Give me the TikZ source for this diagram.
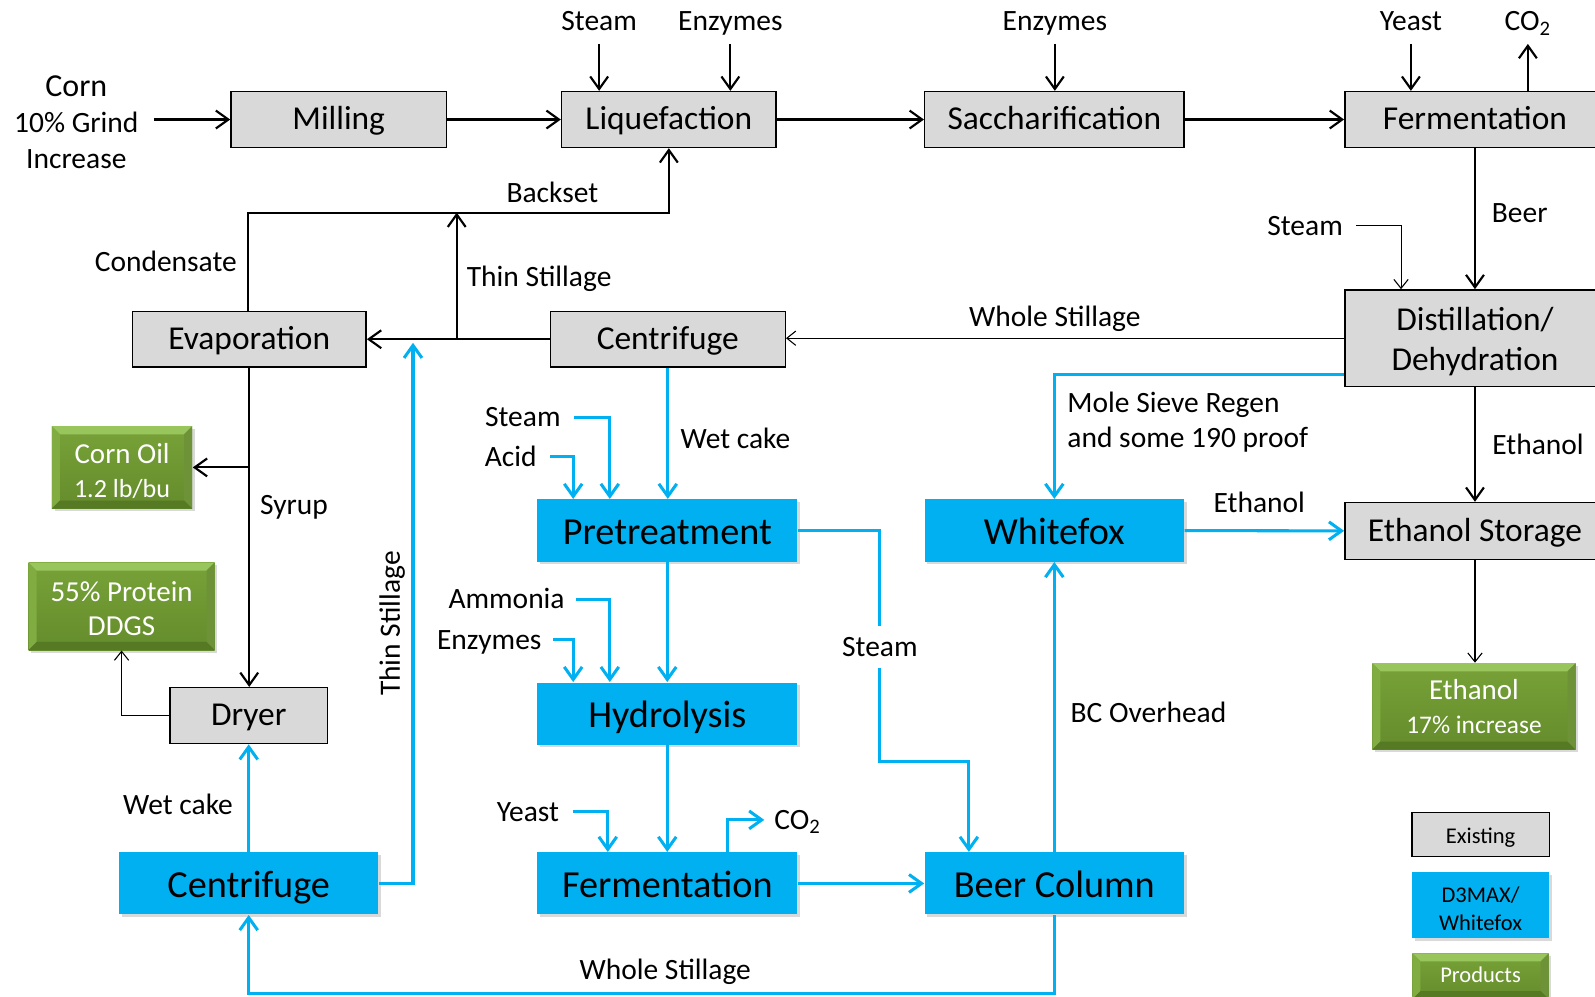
\documentclass[tikz,border=0pt]{standalone}
\usepackage{fontspec}
\setmainfont{Carlito}
\usetikzlibrary{arrows.meta,positioning,shadows}

\definecolor{exgray}{RGB}{217,217,217}
\definecolor{dmaxblue}{RGB}{0,176,240}
\definecolor{prodtop}{RGB}{120,162,56}
\definecolor{prodbot}{RGB}{100,140,44}
\definecolor{bevlight}{RGB}{152,198,92}
\definecolor{bevmid}{RGB}{128,172,66}
\definecolor{bevdark}{RGB}{86,122,36}

\newcommand{\lift}[1]{\rule{0pt}{#1em}}

\tikzset{
  boxsize/.style 2 args={minimum width=#1cm,minimum height=#2cm},
  exline/.style={text height=15pt,text depth=3.7pt},
  dmline/.style={text height=19.3pt,text depth=3.4pt},
  existing/.style={draw=black,line width=0.8pt,fill=exgray,inner sep=0pt,align=center,
    font=\fontsize{18.7}{22.8}\selectfont},
  dmax/.style={fill=dmaxblue,inner sep=0pt,align=center,font=\fontsize{21.4}{24}\selectfont,
    drop shadow={shadow xshift=1.5pt,shadow yshift=-1.5pt,opacity=0.3}},
  product/.style={top color=prodtop,bottom color=prodbot,inner sep=0pt,align=center,text=white,
    font=\fontsize{16.2}{19}\selectfont,
    drop shadow={shadow xshift=1.5pt,shadow yshift=-1.5pt,opacity=0.3},
    path picture={
      \coordinate (nw) at (path picture bounding box.north west);
      \coordinate (ne) at (path picture bounding box.north east);
      \coordinate (sw) at (path picture bounding box.south west);
      \coordinate (se) at (path picture bounding box.south east);
      \fill[bevlight] (nw) -- (ne) -- ([xshift=-4.5pt,yshift=-4.5pt]ne) -- ([xshift=4.5pt,yshift=-4.5pt]nw) -- cycle;
      \fill[bevmid] (nw) -- ([xshift=4.5pt,yshift=-4.5pt]nw) -- ([xshift=4.5pt,yshift=4.5pt]sw) -- (sw) -- cycle;
      \fill[bevmid!85!black] (ne) -- ([xshift=-4.5pt,yshift=-4.5pt]ne) -- ([xshift=-4.5pt,yshift=4.5pt]se) -- (se) -- cycle;
      \fill[bevdark] (sw) -- ([xshift=4.5pt,yshift=4.5pt]sw) -- ([xshift=-4.5pt,yshift=4.5pt]se) -- (se) -- cycle;
    }},
  legfont/.style={font=\fontsize{12.6}{15.5}\selectfont},
  lbl/.style={font=\fontsize{16.5}{20}\selectfont,text height=13.2pt,text depth=2.8pt},
  mlbl/.style={font=\fontsize{16.5}{20}\selectfont},
  flow/.style={->,line width=1.2pt},
  bflow/.style={->,draw=dmaxblue,line width=1.7pt},
  tflow/.style={-{Straight Barb[length=5pt,width=8pt]},line width=0.6pt},
}

\begin{document}
\begin{tikzpicture}[x=0.02cm,y=-0.02cm,>={Straight Barb[length=7pt,width=10pt]},semithick]
  \useasboundingbox (0,0) rectangle (1568,980);

  % existing plant
  \node[existing,exline,boxsize={4.24}{1.1}] (mill)  at (333,117.5)  {Milling};
  \node[existing,exline,boxsize={4.22}{1.1}] (liq)   at (657.5,117.5) {Liquefaction};
  \node[existing,exline,boxsize={5.1}{1.1}]  (sacc)  at (1036.5,117.5) {Saccharification};
  \node[existing,exline,boxsize={5.12}{1.1}] (fermA) at (1450,117.5) {Fermentation};
  \node[existing,boxsize={5.12}{1.9}] (dist)  at (1450,332.5) {\lift{0.9}Distillation/\\Dehydration};
  \node[existing,exline,boxsize={4.62}{1.1}] (cent)  at (656.5,333.5) {Centrifuge};
  \node[existing,exline,boxsize={4.6}{1.1}]  (evap)  at (245,333.5)  {Evaporation};
  \node[existing,exline,boxsize={3.1}{1.1}]  (dryer) at (244.5,703.5) {Dryer};
  \node[existing,exline,boxsize={5.12}{1.12}] (etstor) at (1450,522) {Ethanol Storage};

  % D3MAX / Whitefox
  \node[dmax,dmline,boxsize={5.12}{1.22}] (pre)   at (656,521.5)  {Pretreatment};
  \node[dmax,dmline,boxsize={5.12}{1.22}] (hyd)   at (656,701.5)  {Hydrolysis};
  \node[dmax,dmline,boxsize={5.12}{1.22}] (fermB) at (656,868.5)  {Fermentation};
  \node[dmax,dmline,boxsize={5.1}{1.22}]  (beer)  at (1036.5,868.5) {Beer Column};
  \node[dmax,dmline,boxsize={5.1}{1.22}]  (wfox)  at (1036.5,521.5) {Whitefox};
  \node[dmax,dmline,boxsize={5.1}{1.22}]  (centB) at (244.5,868.5) {Centrifuge};

  % products
  \node[product,boxsize={2.76}{1.62}] (oil)  at (120,459.5) {\lift{0.92}Corn Oil\\{\fontsize{14.6}{17}\selectfont 1.2 lb/bu}};
  \node[product,boxsize={3.66}{1.72}] (ddgs) at (119.5,596) {\lift{0.82}55\% Protein\\DDGS};
  \node[product,boxsize={4.0}{1.7}]   (ethP) at (1449,694.5) {Ethanol\\{\fontsize{14.2}{17}\selectfont 17\% increase}};

  % legend
  \node[existing,legfont,text height=10.6pt,text depth=1.1pt,boxsize={2.7}{0.86}] (legex) at (1455.5,820.5) {Existing};
  \node[dmax,legfont,boxsize={2.7}{1.3},below=0.28cm of legex] (legd) {\lift{1.05}D3MAX/\\Whitefox};
  \node[product,legfont,text height=10pt,text depth=2.5pt,boxsize={2.68}{0.9},below=0.28cm of legd] (legp) {Products};

  % inputs and labels
  \node[mlbl,align=center] (corn) at (75,120) {{\fontsize{17.9}{21}\selectfont Corn}\\10\% Grind\\Increase};
  \node[lbl] (stmA)   at (589,21)  {Steam};
  \node[lbl] (enzA)   at (718,21)  {Enzymes};
  \node[lbl] (enzB)   at (1037,21) {Enzymes};
  \node[lbl] (yeastA) at (1387,21) {Yeast};
  \node[lbl] (co2A)   at (1502,21) {CO\textsubscript{2}};
  \node[lbl] (beerlbl) at (1494,210) {Beer};
  \node[lbl] (stmC)   at (1283,222) {Steam};
  \node[lbl] (wsA)    at (1037,312) {Whole Stillage};
  \node[lbl] (bkset)  at (543,190) {Backset};
  \node[lbl] (cond)   at (163,258) {Condensate};
  \node[lbl] (tsAl)   at (530,273) {Thin Stillage};
  \node[lbl] (syrup)  at (289,497) {Syrup};
  \node[lbl] (wcA)    at (723,432) {Wet cake};
  \node[lbl] (wcB)    at (175,792) {Wet cake};
  \node[lbl,rotate=90] (tsBl) at (384,613) {Thin Stillage};
  \node[lbl] (wsB)    at (654,954) {Whole Stillage};
  \node[lbl] (stmB)   at (514,410) {Steam};
  \node[lbl] (acid)   at (502,449) {Acid};
  \node[lbl] (amm)    at (498,589) {Ammonia};
  \node[lbl] (enzC)   at (481,629) {Enzymes};
  \node[lbl] (yeastB) at (519,798) {Yeast};
  \node[lbl] (co2B)   at (784,806) {CO\textsubscript{2}};
  \node[lbl] (stmD)   at (865,636) {Steam};
  \node[lbl] (bco)    at (1129,701) {BC Overhead};
  \node[mlbl,align=left,anchor=west] (msr) at (1043,415) {Mole Sieve Regen\\and some 190 proof};
  \node[lbl] (ethA)   at (1238,495) {Ethanol};
  \node[lbl] (ethB)   at (1512,438) {Ethanol};

  \coordinate (bkL) at (244,209);
  \coordinate (tsA) at (449,333.5);
  \coordinate (tsB) at (406,337);
  \coordinate (wsC) at (650,977);
  \coordinate (stmK) at (865,749);

  % black lines
  \draw[flow,shorten <=5pt] (corn.east |- mill.west) -- (mill.west);
  \draw[flow] (mill) -- (liq);
  \draw[flow] (liq) -- (sacc);
  \draw[flow] (sacc) -- (fermA);
  \draw[flow,shorten <=1pt] (stmA) -- (stmA |- liq.north);
  \draw[flow,shorten <=1pt] (enzA) -- (enzA |- liq.north);
  \draw[flow,shorten <=1pt] (enzB) -- (enzB |- sacc.north);
  \draw[flow,shorten <=1pt] (yeastA) -- (yeastA |- fermA.north);
  \draw[flow,shorten >=1pt] (fermA.north -| co2A) -- (co2A);
  \draw[flow] (fermA) -- (dist);
  \draw[tflow,shorten <=4pt] (stmC) -| ([xshift=1.12cm]dist.north west);
  \draw[tflow] (dist.west) -- (dist.west -| cent.east);
  \draw[flow] (cent) -- (evap);
  \draw[flow] (evap.north -| bkL) -- (bkL) -| (liq.south);
  \draw[flow] (tsA) -- (tsA |- bkL);
  \draw[flow] (evap.south) -- (evap.south |- dryer.north);
  \draw[flow] (evap.south |- oil) -- (oil.east);
  \draw[tflow] (dryer.west) -| (ddgs.south);
  \draw[flow] (dist) -- (etstor);
  \draw[tflow] (etstor) -- (etstor |- ethP.north);

  % blue lines
  \draw[bflow] (centB) -- (centB.north |- dryer.south);
  \draw[bflow] (centB.east) -| (tsB);
  \draw[bflow] (beer.south) |- (wsC) -| (centB.south);
  \draw[bflow] (cent.south) -- (cent.south |- pre.north);
  \draw[bflow,shorten <=4pt] (stmB) -| ([xshift=1.44cm]pre.north west);
  \draw[bflow,shorten <=4pt] (acid) -| ([xshift=0.72cm]pre.north west);
  \draw[bflow] (pre) -- (hyd);
  \draw[bflow,shorten <=3pt] (amm) -| ([xshift=1.44cm]hyd.north west);
  \draw[bflow,shorten <=3pt] (enzC) -| ([xshift=0.72cm]hyd.north west);
  \draw[bflow] (hyd) -- (fermB);
  \draw[bflow,shorten <=4pt] (yeastB) -| ([xshift=1.4cm]fermB.north west);
  \draw[bflow,shorten >=2pt] ([xshift=3.76cm]fermB.north west) |- (co2B.west);
  \draw[bflow] (fermB) -- (beer);
  \draw[bflow,-] (pre.east) -| (stmD.north);
  \draw[bflow] (stmD.south) -- (stmK) -| ([xshift=0.88cm]beer.north west);
  \draw[bflow] (beer) -- (wfox);
  \draw[bflow] ([yshift=-0.71cm]dist.west) -| (wfox.north);
  \draw[bflow] (wfox) -- (etstor);
\end{tikzpicture}
\end{document}
